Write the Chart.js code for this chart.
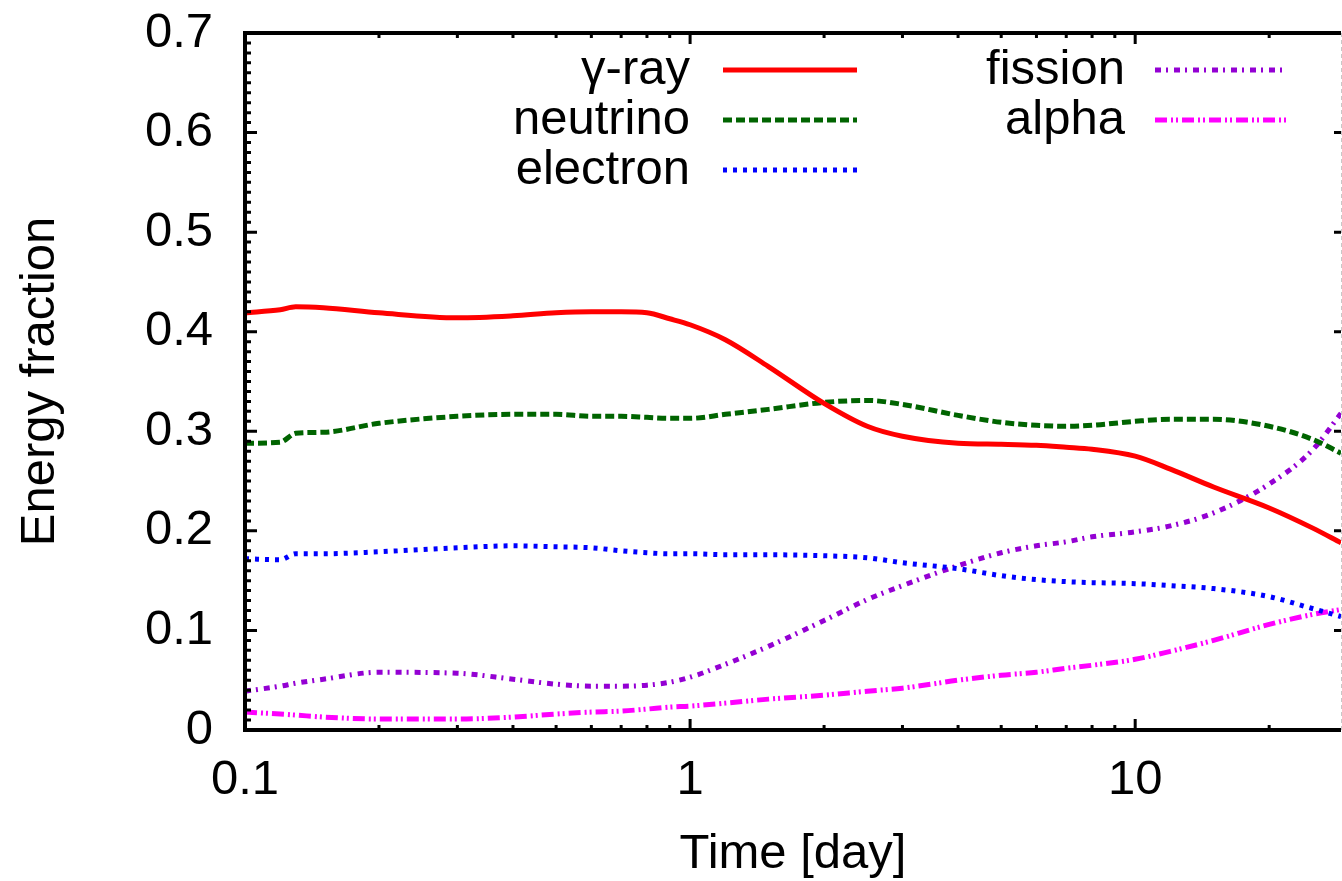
<!DOCTYPE html>
<html>
<head>
<meta charset="utf-8">
<script src="https://cdn.jsdelivr.net/npm/chart.js@4.4.0/dist/chart.umd.min.js"></script>
<style>
  html, body { margin: 0; padding: 0; background: #fff; overflow: hidden; }
</style>
</head>
<body>
<canvas id="energyChart" width="1342" height="881"></canvas>
<script>
// time grid [day] and energy fractions
const days = [0.1, 0.12, 0.13, 0.15, 0.2, 0.3, 0.4, 0.5, 0.6, 0.7, 0.8, 0.9, 1, 1.2, 1.5, 2, 2.5, 3, 4, 5, 6, 7, 8, 10, 12, 15, 20, 25, 29];
const gammaRay = [0.419, 0.422, 0.425, 0.424, 0.419, 0.414, 0.416, 0.419, 0.420, 0.420, 0.419, 0.413, 0.407, 0.392, 0.365, 0.328, 0.305, 0.295, 0.288, 0.287, 0.286, 0.284, 0.282, 0.275, 0.262, 0.244, 0.223, 0.203, 0.188];
const neutrino = [0.288, 0.289, 0.298, 0.299, 0.308, 0.315, 0.317, 0.317, 0.315, 0.315, 0.314, 0.313, 0.313, 0.317, 0.322, 0.329, 0.331, 0.327, 0.316, 0.309, 0.306, 0.305, 0.306, 0.310, 0.312, 0.312, 0.305, 0.292, 0.278];
const electron = [0.172, 0.171, 0.177, 0.177, 0.179, 0.183, 0.185, 0.184, 0.183, 0.180, 0.178, 0.177, 0.177, 0.176, 0.176, 0.175, 0.173, 0.168, 0.162, 0.155, 0.151, 0.149, 0.148, 0.147, 0.145, 0.142, 0.134, 0.122, 0.114];
const fission = [0.039, 0.044, 0.047, 0.051, 0.058, 0.057, 0.051, 0.046, 0.044, 0.044, 0.045, 0.048, 0.053, 0.066, 0.084, 0.110, 0.131, 0.145, 0.165, 0.178, 0.185, 0.189, 0.194, 0.199, 0.205, 0.218, 0.247, 0.281, 0.318];
const alpha = [0.018, 0.016, 0.015, 0.013, 0.011, 0.011, 0.013, 0.016, 0.018, 0.019, 0.021, 0.023, 0.024, 0.027, 0.031, 0.035, 0.039, 0.042, 0.050, 0.055, 0.058, 0.062, 0.065, 0.071, 0.079, 0.090, 0.106, 0.116, 0.121];

const xMajorTicks = [0.1, 1, 10];
const xMinorTicks = [0.2, 0.3, 0.4, 0.5, 0.6, 0.7, 0.8, 0.9, 2, 3, 4, 5, 6, 7, 8, 9, 20];
const yMajorTicks = [0, 0.1, 0.2, 0.3, 0.4, 0.5, 0.6, 0.7];

const FONT = 'Liberation Sans, Arial, Helvetica, sans-serif';
Chart.defaults.font.family = FONT;
Chart.defaults.color = '#000';

function series(label, values, color, dash) {
    return {
        label: label,
        data: days.map((d, i) => ({ x: d, y: values[i] })),
        borderColor: color,
        backgroundColor: color,
        borderWidth: 5,
        borderDash: dash,
        pointRadius: 0,
        fill: false,
        cubicInterpolationMode: 'monotone',
    };
}

const datasets = [
    series('γ-ray', gammaRay, '#ff0000', []),
    series('neutrino', neutrino, '#006400', [9, 4]),
    series('electron', electron, '#0000ff', [4, 6]),
    series('fission', fission, '#9400d3', [6, 5, 2, 6]),
    series('alpha', alpha, '#ff00ff', [12, 4, 2, 3, 2, 4]),
];

// gnuplot-like frame: thick border, inward ticks, light dashed right edge
const framePlugin = {
    id: 'frame',
    afterDatasetsDraw(chart) {
        const { ctx, chartArea: a, scales: { x, y } } = chart;
        ctx.save();
        ctx.strokeStyle = '#000';
        ctx.lineWidth = 3;
        ctx.beginPath();
        for (const v of xMajorTicks) {
            const px = x.getPixelForValue(v);
            ctx.moveTo(px, a.bottom); ctx.lineTo(px, a.bottom - 11);
            ctx.moveTo(px, a.top); ctx.lineTo(px, a.top + 11);
        }
        for (const v of xMinorTicks) {
            const px = x.getPixelForValue(v);
            ctx.moveTo(px, a.bottom); ctx.lineTo(px, a.bottom - 5);
            ctx.moveTo(px, a.top); ctx.lineTo(px, a.top + 5);
        }
        for (let i = 0; i <= 70; i++) {
            const py = y.getPixelForValue(i / 100);
            const len = i % 10 === 0 ? 12 : 6;
            ctx.moveTo(a.left, py); ctx.lineTo(a.left + len, py);
        }
        for (const v of yMajorTicks) {
            const py = y.getPixelForValue(v);
            ctx.moveTo(a.right, py); ctx.lineTo(a.right - 7, py);
        }
        ctx.stroke();

        ctx.lineWidth = 4;
        ctx.beginPath();
        ctx.moveTo(a.right, a.top); ctx.lineTo(a.left, a.top);
        ctx.lineTo(a.left, a.bottom); ctx.lineTo(a.right, a.bottom);
        ctx.stroke();

        ctx.strokeStyle = '#c8c8c8';
        ctx.lineWidth = 1;
        ctx.setLineDash([4, 3]);
        ctx.beginPath();
        ctx.moveTo(a.right + 0.5, a.top); ctx.lineTo(a.right + 0.5, a.bottom);
        ctx.stroke();
        ctx.restore();
    }
};

// two-column key: right-aligned label followed by the line sample
const keyPlugin = {
    id: 'key',
    afterDatasetsDraw(chart) {
        const ctx = chart.ctx;
        const slots = [
            { textX: 690, x0: 723, x1: 857, y: 70 },
            { textX: 690, x0: 723, x1: 857, y: 120 },
            { textX: 690, x0: 723, x1: 857, y: 170 },
            { textX: 1125, x0: 1155, x1: 1288, y: 70 },
            { textX: 1125, x0: 1155, x1: 1288, y: 120 },
        ];
        ctx.save();
        chart.data.datasets.forEach((ds, i) => {
            const s = slots[i];
            ctx.font = '49px ' + FONT;
            ctx.fillStyle = '#000';
            ctx.textAlign = 'right';
            ctx.textBaseline = 'middle';
            ctx.fillText(ds.label, s.textX, s.y);
            ctx.strokeStyle = ds.borderColor;
            ctx.lineWidth = ds.borderWidth;
            ctx.setLineDash(ds.borderDash);
            ctx.beginPath();
            ctx.moveTo(s.x0, s.y);
            ctx.lineTo(s.x1, s.y);
            ctx.stroke();
        });
        ctx.restore();
    }
};

new Chart(document.getElementById('energyChart'), {
    type: 'line',
    data: { datasets: datasets },
    options: {
        responsive: false,
        animation: false,
        devicePixelRatio: 1,
        layout: { padding: { top: 33, right: 1, bottom: 0, left: 0 } },
        plugins: { legend: { display: false }, tooltip: { enabled: false } },
        scales: {
            x: {
                type: 'logarithmic',
                min: 0.1,
                max: 29,
                grid: { display: false, drawTicks: false },
                border: { display: false },
                afterBuildTicks: (scale) => { scale.ticks = xMajorTicks.map(v => ({ value: v })); },
                afterFit: (scale) => {
                    scale.height = 151;
                    scale.paddingLeft = 0;
                    scale.paddingRight = 0;
                },
                ticks: {
                    padding: 21,
                    maxRotation: 0,
                    font: { size: 49 },
                    callback: (v) => String(v),
                },
                title: {
                    display: true,
                    text: 'Time [day]',
                    font: { size: 49, lineHeight: 1 },
                    padding: { top: 0, bottom: 2 },
                },
            },
            y: {
                min: 0,
                max: 0.7,
                grid: { display: false, drawTicks: false },
                border: { display: false },
                afterBuildTicks: (scale) => { scale.ticks = yMajorTicks.map(v => ({ value: v })); },
                afterFit: (scale) => {
                    scale.width = 245;
                    scale.paddingTop = 0;
                    scale.paddingBottom = 0;
                },
                ticks: {
                    padding: 32,
                    font: { size: 49 },
                    callback: (v) => v === 0 ? '0' : v.toFixed(1),
                },
                title: {
                    display: true,
                    text: 'Energy fraction',
                    font: { size: 49, lineHeight: 1 },
                    padding: { top: 16, bottom: 0 },
                },
            },
        },
    },
    plugins: [framePlugin, keyPlugin],
});
</script>
</body>
</html>
